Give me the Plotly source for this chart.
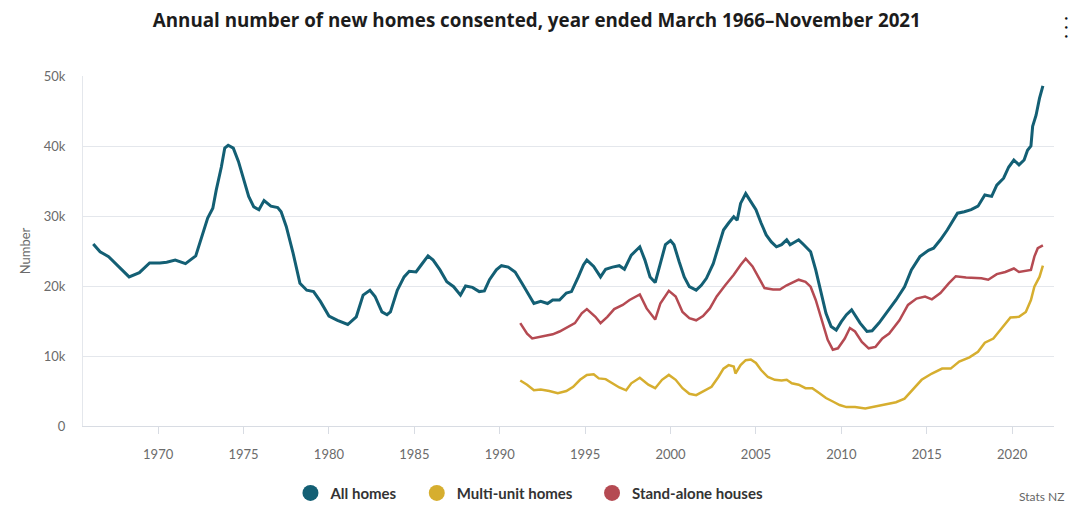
import plotly.graph_objects as go

# data (year as decimal, values = homes consented, annual total)
all_years = [1966.2, 1966.6, 1967.1, 1967.4, 1967.8, 1968.3, 1968.9, 1969.5, 1970.1, 1970.5,
             1971.0, 1971.6, 1972.2, 1972.5, 1972.9, 1973.2, 1973.4, 1973.7, 1973.9, 1974.1,
             1974.4, 1974.7, 1975.0, 1975.3, 1975.6, 1975.9, 1976.2, 1976.6, 1977.0, 1977.2,
             1977.5, 1977.9, 1978.3, 1978.7, 1979.1, 1979.5, 1980.0, 1980.5, 1981.1, 1981.6,
             1982.0, 1982.4, 1982.7, 1983.1, 1983.4, 1983.6, 1984.0, 1984.4, 1984.7, 1985.1,
             1985.4, 1985.8, 1986.1, 1986.5, 1986.9, 1987.3, 1987.7, 1988.0, 1988.4, 1988.8,
             1989.1, 1989.4, 1989.8, 1990.1, 1990.5, 1990.9, 1991.3, 1991.7, 1992.0, 1992.4,
             1992.8, 1993.1, 1993.5, 1993.9, 1994.2, 1994.6, 1994.9, 1995.1, 1995.5, 1995.9,
             1996.2, 1996.6, 1997.0, 1997.3, 1997.7, 1998.2, 1998.5, 1998.8, 1999.1, 1999.4,
             1999.7, 2000.0, 2000.2, 2000.5, 2000.8, 2001.1, 2001.5, 2001.8, 2002.1, 2002.5,
             2002.9, 2003.1, 2003.4, 2003.7, 2003.9, 2004.1, 2004.4, 2004.7, 2005.0, 2005.3,
             2005.6, 2005.9, 2006.2, 2006.5, 2006.8, 2007.0, 2007.3, 2007.5, 2007.8, 2008.2,
             2008.5, 2008.8, 2009.1, 2009.4, 2009.7, 2010.0, 2010.3, 2010.6, 2010.8, 2011.1,
             2011.5, 2011.8, 2012.2, 2012.7, 2013.2, 2013.7, 2014.1, 2014.6, 2015.1, 2015.4,
             2015.8, 2016.2, 2016.5, 2016.8, 2017.2, 2017.6, 2018.0, 2018.4, 2018.8, 2019.1,
             2019.5, 2019.8, 2020.1, 2020.4, 2020.7, 2020.9, 2021.1, 2021.2, 2021.4, 2021.6,
             2021.8]
all_homes = [26.0, 24.9, 24.2, 23.5, 22.6, 21.3, 21.9, 23.3, 23.3, 23.4,
             23.7, 23.2, 24.3, 26.6, 29.7, 31.1, 33.7, 37.0, 39.7, 40.1,
             39.7, 37.8, 35.1, 32.8, 31.3, 30.9, 32.2, 31.4, 31.2, 30.6,
             28.5, 24.7, 20.4, 19.4, 19.2, 17.8, 15.7, 15.1, 14.5, 15.6,
             18.7, 19.4, 18.5, 16.3, 15.9, 16.3, 19.4, 21.3, 22.1, 22.0,
             23.0, 24.3, 23.7, 22.3, 20.6, 19.9, 18.7, 20.0, 19.8, 19.2,
             19.3, 20.9, 22.3, 22.9, 22.7, 22.0, 20.4, 18.7, 17.5, 17.8,
             17.5, 18.0, 18.0, 19.0, 19.2, 21.3, 23.0, 23.7, 22.8, 21.3,
             22.4, 22.7, 22.9, 22.4, 24.4, 25.6, 23.7, 21.3, 20.5, 23.2,
             25.9, 26.5, 25.9, 23.5, 21.3, 19.9, 19.4, 20.1, 21.1, 23.2,
             26.6, 28.0, 29.0, 29.9, 29.4, 31.8, 33.2, 32.0, 30.9, 29.0,
             27.3, 26.3, 25.6, 25.9, 26.6, 25.9, 26.3, 26.6, 25.9, 24.9,
             22.3, 19.0, 16.1, 14.2, 13.7, 14.9, 15.9, 16.6, 15.9, 14.7,
             13.5, 13.6, 14.7, 16.3, 18.0, 19.9, 22.3, 24.2, 25.1, 25.4,
             26.6, 28.0, 29.2, 30.4, 30.6, 30.9, 31.4, 33.0, 32.8, 34.4,
             35.4, 37.0, 38.0, 37.3, 38.0, 39.4, 40.0, 42.8, 44.4, 46.8,
             48.6]

su_years = [1991.2, 1991.6, 1991.9, 1992.3, 1992.7, 1993.1, 1993.5, 1994.0, 1994.4, 1994.8,
            1995.1, 1995.6, 1995.9, 1996.3, 1996.7, 1997.2, 1997.6, 1998.2, 1998.6, 1999.1,
            1999.4, 1999.9, 2000.3, 2000.7, 2001.1, 2001.5, 2001.9, 2002.3, 2002.7, 2003.2,
            2003.7, 2004.1, 2004.4, 2004.8, 2005.2, 2005.5, 2006.0, 2006.4, 2006.8, 2007.1,
            2007.5, 2007.9, 2008.2, 2008.5, 2008.9, 2009.2, 2009.5, 2009.8, 2010.2, 2010.5,
            2010.8, 2011.2, 2011.6, 2012.0, 2012.4, 2012.8, 2013.4, 2013.9, 2014.4, 2014.9,
            2015.3, 2015.8, 2016.3, 2016.7, 2017.3, 2017.9, 2018.2, 2018.6, 2019.1, 2019.6,
            2020.1, 2020.4, 2020.8, 2021.1, 2021.3, 2021.5, 2021.8]
standalone = [14.7, 13.2, 12.5, 12.7, 12.8, 13.1, 13.5, 14.2, 14.7, 16.1,
              16.7, 15.6, 14.7, 15.6, 16.7, 17.3, 18.0, 18.8, 16.8, 15.2,
              17.5, 19.3, 18.5, 16.3, 15.4, 15.1, 15.7, 16.8, 18.5, 20.1,
              21.6, 23.0, 23.9, 22.8, 21.1, 19.7, 19.5, 19.5, 20.1, 20.4,
              20.9, 20.6, 19.9, 18.0, 14.7, 12.3, 10.9, 11.1, 12.5, 14.0,
              13.5, 12.0, 11.1, 11.3, 12.5, 13.2, 15.1, 17.3, 18.2, 18.5,
              18.1, 19.0, 20.4, 21.4, 21.2, 21.1, 21.1, 20.9, 21.7, 22.0,
              22.5, 22.0, 22.2, 22.3, 24.2, 25.4, 25.8]

mu_years = [1991.2, 1991.6, 1992.0, 1992.4, 1992.9, 1993.4, 1993.9, 1994.3, 1994.7, 1995.1,
            1995.5, 1995.8, 1996.2, 1996.6, 1997.0, 1997.4, 1997.7, 1998.2, 1998.7, 1999.1,
            1999.5, 1999.9, 2000.3, 2000.7, 2001.1, 2001.5, 2001.9, 2002.4, 2002.8, 2003.1,
            2003.4, 2003.7, 2003.8, 2004.1, 2004.4, 2004.7, 2005.0, 2005.3, 2005.7, 2006.1,
            2006.5, 2006.8, 2007.1, 2007.5, 2007.9, 2008.3, 2008.7, 2009.1, 2009.5, 2009.9,
            2010.3, 2010.8, 2011.4, 2012.0, 2012.6, 2013.2, 2013.7, 2014.1, 2014.7, 2015.3,
            2015.9, 2016.4, 2016.9, 2017.5, 2018.0, 2018.4, 2018.9, 2019.4, 2019.9, 2020.4,
            2020.8, 2021.1, 2021.3, 2021.6, 2021.8]
multiunit = [6.5, 5.9, 5.1, 5.2, 5.0, 4.7, 5.0, 5.6, 6.6, 7.3,
             7.4, 6.8, 6.7, 6.1, 5.5, 5.1, 6.1, 6.9, 5.9, 5.4,
             6.6, 7.3, 6.6, 5.4, 4.6, 4.4, 4.9, 5.6, 7.0, 8.2,
             8.7, 8.5, 7.5, 8.7, 9.4, 9.5, 9.0, 8.0, 7.0, 6.6,
             6.5, 6.6, 6.1, 5.9, 5.4, 5.4, 4.7, 4.0, 3.5, 3.0,
             2.7, 2.7, 2.5, 2.8, 3.0, 3.4, 3.9, 5.0, 6.6, 7.5,
             8.2, 8.2, 9.2, 9.8, 10.6, 11.9, 12.5, 14.0, 15.5, 15.6,
             16.3, 18.0, 19.9, 21.3, 22.9]

year_ticks = [1970, 1975, 1980, 1985, 1990, 1995, 2000, 2005, 2010, 2015, 2020]
value_ticks = [0, 10000, 20000, 30000, 40000, 50000]
value_labels = ['0', '10k', '20k', '30k', '40k', '50k']

blue = '#135f74'
yellow = '#d6ae2f'
red = '#b54a52'

fig = go.Figure()

series = [
    ('All homes', all_years, all_homes, blue, 3),
    ('Multi-unit homes', mu_years, multiunit, yellow, 2.5),
    ('Stand-alone houses', su_years, standalone, red, 2.5),
]

for name, xs, ys, col, w in series:
    fig.add_trace(go.Scatter(
        x=xs, y=[v * 1000 for v in ys],
        mode='lines', line=dict(color=col, width=w),
        name=name, showlegend=False, legendgroup=name,
        hovertemplate='%{y:,.0f}<extra>' + name + '</extra>'
    ))

# round markers for the legend (spaces pad the gap between items)
for name, xs, ys, col, w in series:
    fig.add_trace(go.Scatter(
        x=[None], y=[None], mode='markers',
        marker=dict(color=col, size=17, symbol='circle'),
        name=name + '    ', legendgroup=name, showlegend=True
    ))

# page body has an 8px margin, so the figure is sized to sit inside the window
fig.update_layout(
    width=1064, height=507,
    autosize=False,
    margin=dict(l=75, r=18, t=68, b=89),
    paper_bgcolor='white',
    plot_bgcolor='white',
    font=dict(family='Lato, Open Sans, sans-serif', color='#666666', size=13),
    title=dict(
        text='<b>Annual number of new homes consented, year ended March 1966–November 2021</b>',
        x=0.497, xanchor='center', y=0.975, yanchor='middle',
        font=dict(family='Open Sans, sans-serif', size=18.8, color='#1c1c1c')
    ),
    xaxis=dict(
        range=[1965.6, 2022.45],
        tickvals=year_ticks,
        ticktext=[str(y) for y in year_ticks],
        showgrid=False, zeroline=False, automargin=False,
        showline=True, linecolor='#d8dce3', linewidth=1,
        ticks='outside', ticklen=7, tickcolor='#d8dce3',
        ticklabelstandoff=9,
        tickfont=dict(size=13, color='#6b6b6b'),
    ),
    yaxis=dict(
        range=[0, 50000],
        tickvals=value_ticks,
        ticktext=value_labels,
        showgrid=True, gridcolor='#e4e7ec', gridwidth=1,
        zeroline=False, automargin=False,
        showline=True, linecolor='#e4e7ec', linewidth=1,
        ticks='', ticklabelstandoff=14,
        tickfont=dict(size=13, color='#6b6b6b'),
        title=dict(text='Number', standoff=10, font=dict(size=13, color='#6b6b6b')),
    ),
    legend=dict(
        orientation='h', xref='paper', x=0.467, xanchor='center',
        yref='container', y=0.043, yanchor='middle',
        font=dict(family='Lato, sans-serif', size=15, color='#333333', weight='bold'),
        itemwidth=30,
    ),
    annotations=[
        dict(text='Stats NZ', xref='paper', yref='paper', x=1.012, y=-0.2,
             xanchor='right', yanchor='middle', showarrow=False,
             font=dict(size=12, color='#666666')),
        dict(text='<b>•<br>•<br>•</b>', xref='paper', yref='paper', x=1.012, y=1.138,
             xanchor='center', yanchor='middle', showarrow=False,
             font=dict(family='DejaVu Sans, sans-serif', size=7, color='#111111')),
    ],
)

fig.write_html("out.html")
